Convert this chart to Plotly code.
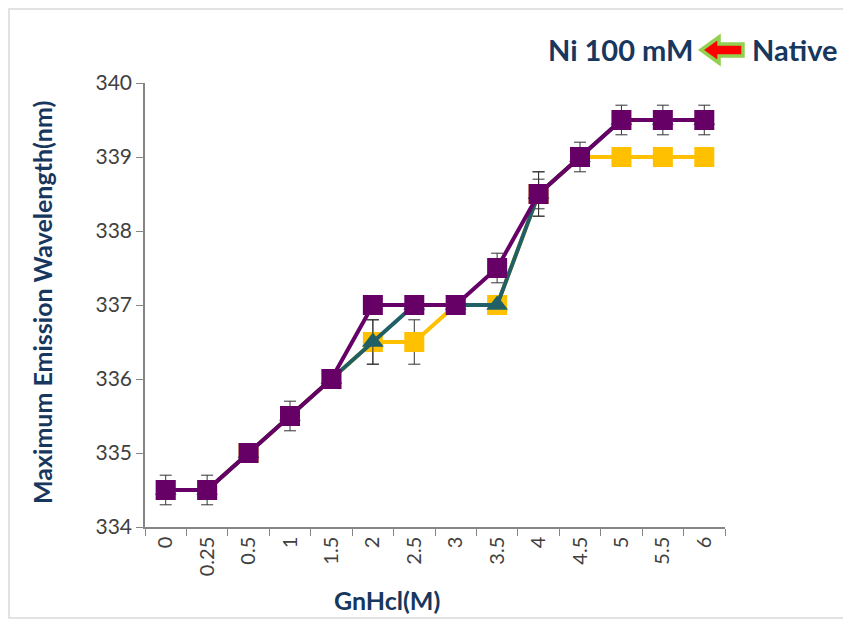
import plotly.graph_objects as go

categories = ["0", "0.25", "0.5", "1", "1.5", "2", "2.5", "3", "3.5", "4", "4.5", "5", "5.5", "6"]
yellow_vals = [334.5, 334.5, 335, 335.5, 336, 336.5, 336.5, 337, 337, 338.5, 339, 339, 339, 339]
yellow_err = [0, 0, 0, 0, 0, 0.3, 0.3, 0, 0, 0.3, 0, 0, 0, 0]
teal_vals = [334.5, 334.5, 335, 335.5, 336, 336.5, 337, 337, 337, 338.5, 339, 339.5, 339.5, 339.5]
teal_err = [0, 0, 0, 0, 0, 0.3, 0, 0, 0, 0.2, 0, 0, 0, 0]
purple_vals = [334.5, 334.5, 335, 335.5, 336, 337, 337, 337, 337.5, 338.5, 339, 339.5, 339.5, 339.5]
purple_err = [0.2, 0.2, 0, 0.2, 0, 0, 0, 0, 0.2, 0.3, 0.2, 0.2, 0.2, 0.2]

NAVY = "#17375E"

def series(vals, err, color, symbol, size):
    return go.Scatter(
        x=categories, y=vals, mode="lines+markers",
        line=dict(color=color, width=4),
        marker=dict(color=color, symbol=symbol, size=size),
        error_y=dict(type="data", array=err, color="#333333", thickness=1, width=6, visible=True),
        showlegend=False,
    )

fig = go.Figure()
fig.add_trace(series(yellow_vals, yellow_err, "#FFC000", "square", 20))
fig.add_trace(series(teal_vals, teal_err, "#215F66", "triangle-up", 19))
fig.add_trace(series(purple_vals, purple_err, "#660066", "square", 20))

# page body has an 8px margin; plot area in window pixels: x 145..725, y 83..527
OFF = 8
W, H = 851 - OFF, 627 - OFF
L, R, T, B = 145 - OFF, 126, 83 - OFF, 100
pw, ph = W - L - R, H - T - B

def px(x):
    return (x - OFF - L) / pw

def py(y):
    return (H - B - (y - OFF)) / ph

# arrow pointing left (decoration beside the title)
ay = 50
pts = [(701, ay), (719, ay - 13), (719, ay - 6), (743, ay - 6), (743, ay + 6), (719, ay + 6), (719, ay + 13)]
path = "M " + " L ".join(f"{px(a):.4f},{py(b):.4f}" for a, b in pts) + " Z"

fig.update_layout(
    width=W, height=H,
    margin=dict(l=L, r=R, t=T, b=B),
    paper_bgcolor="white", plot_bgcolor="white",
    font=dict(family="Lato, Open Sans, sans-serif", color="#404040"),
    xaxis=dict(
        type="category", range=[-0.5, 13.5], tickson="boundaries",
        ticks="outside", ticklen=7, tickcolor="#868686",
        showline=True, linecolor="#868686", linewidth=1.5, showgrid=False,
        tickangle=-90, tickfont=dict(size=20, color="#404040"),
    ),
    yaxis=dict(
        range=[334, 340], dtick=1, ticks="outside", ticklen=7, tickcolor="#868686",
        showline=True, linecolor="#868686", linewidth=1.5, showgrid=False, zeroline=False,
        tickfont=dict(size=21, color="#404040"),
    ),
    shapes=[
        dict(type="path", path=path, xref="paper", yref="paper",
             fillcolor="#FF0000", line=dict(color="#92D050", width=3.5)),
        dict(type="rect", xref="paper", yref="paper",
             x0=px(9), x1=px(848), y0=py(618), y1=py(9),
             line=dict(color="#D9D9D9", width=1.5)),
    ],
    annotations=[
        dict(text="<b>Ni 100 mM</b>", x=px(695), y=py(ay), xref="paper", yref="paper",
             xanchor="right", yanchor="middle", showarrow=False,
             font=dict(size=29, color=NAVY, family="Lato, sans-serif")),
        dict(text="<b>Native</b>", x=px(750), y=py(ay), xref="paper", yref="paper",
             xanchor="left", yanchor="middle", showarrow=False,
             font=dict(size=29, color=NAVY, family="Lato, sans-serif")),
        dict(text="<b>Maximum Emission Wavelength(nm)</b>", x=px(42), y=py(303),
             xref="paper", yref="paper", xanchor="center", yanchor="middle",
             textangle=-90, showarrow=False,
             font=dict(size=25, color=NAVY, family="Lato, sans-serif")),
        dict(text="<b>GnHcl(M)</b>", x=px(387), y=py(600),
             xref="paper", yref="paper", xanchor="center", yanchor="middle",
             showarrow=False,
             font=dict(size=25, color=NAVY, family="Lato, sans-serif")),
    ],
)

fig.write_html("out.html")
